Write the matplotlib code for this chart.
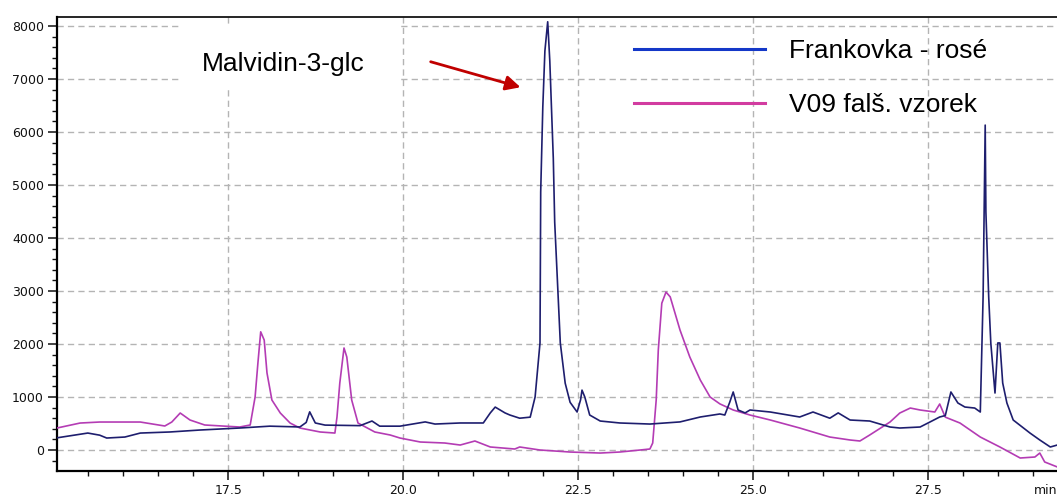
import matplotlib
matplotlib.use("Agg")
import matplotlib.pyplot as plt
from matplotlib.patches import Rectangle
from matplotlib.ticker import MultipleLocator, FormatStrFormatter

# retention time (min) and signal for the two chromatograms
frank_t = [15.05, 15.49, 15.66, 15.76, 16.02, 16.24, 16.66, 17.09, 17.66, 18.09,
           18.52, 18.61, 18.66, 18.74, 18.88, 19.38, 19.55, 19.66, 19.95, 20.31,
           20.45, 20.81, 21.14, 21.24, 21.31, 21.45, 21.52, 21.66, 21.81, 21.88,
           21.95, 21.96, 21.99, 22.02, 22.06, 22.09, 22.11, 22.14, 22.16, 22.24,
           22.31, 22.38, 22.48, 22.53, 22.55, 22.59, 22.66, 22.81, 23.09, 23.52,
           23.95, 24.24, 24.52, 24.59, 24.66, 24.71, 24.78, 24.88, 24.95, 25.24,
           25.66, 25.85, 26.09, 26.21, 26.38, 26.66, 26.95, 27.09, 27.38, 27.52,
           27.66, 27.74, 27.82, 27.92, 28.02, 28.16, 28.24, 28.28, 28.31, 28.32,
           28.36, 28.39, 28.45, 28.49, 28.52, 28.56, 28.62, 28.71, 28.95, 29.09,
           29.24, 29.34, 29.5]
frank_y = [230, 320, 280, 226, 245, 320, 340, 377, 415, 450,
           435, 520, 720, 510, 470, 460, 547, 450, 450, 530,
           490, 510, 510, 700, 810, 700, 660, 600, 620, 1000,
           2020, 4870, 6470, 7530, 8080, 7340, 6600, 5500, 4300, 2020,
           1260, 900, 717, 950, 1130, 1000, 660, 547, 510, 490,
           530, 623, 680, 660, 900, 1095, 755, 700, 755, 717,
           623, 717, 600, 700, 566, 547, 434, 415, 434, 528,
           623, 650, 1095, 887, 811, 792, 717, 2890, 6130, 4490,
           2890, 2020, 1075, 2020, 2020, 1264, 887, 566, 320, 189,
           57, 94, 60]

v09_t = [15.05, 15.38, 15.66, 16.24, 16.59, 16.69, 16.81, 16.95, 17.16, 17.66,
         17.81, 17.88, 17.92, 17.96, 18.01, 18.05, 18.12, 18.24, 18.38, 18.52,
         18.81, 19.02, 19.05, 19.09, 19.15, 19.19, 19.26, 19.35, 19.59, 19.81,
         19.95, 20.24, 20.59, 20.81, 21.02, 21.24, 21.59, 21.66, 21.95, 22.38,
         22.81, 23.09, 23.38, 23.52, 23.56, 23.61, 23.64, 23.69, 23.75, 23.81,
         23.95, 24.09, 24.24, 24.38, 24.52, 24.71, 24.95, 25.24, 25.66, 26.09,
         26.38, 26.52, 26.66, 26.95, 27.09, 27.24, 27.38, 27.59, 27.66, 27.74,
         27.95, 28.24, 28.52, 28.81, 29.02, 29.09, 29.16, 29.34, 29.5]
v09_y = [415, 509, 528, 528, 453, 528, 698, 566, 472, 434,
         472, 1000, 1640, 2230, 2075, 1453, 943, 698, 509, 415,
         340, 320, 623, 1264, 1925, 1755, 943, 509, 340, 283,
         226, 151, 132, 94, 170, 57, 19, 57, 0, -38,
         -57, -38, 0, 19, 132, 943, 1887, 2770, 2980, 2890,
         2264, 1755, 1320, 1000, 870, 755, 660, 566, 415, 245,
         189, 170, 283, 528, 698, 792, 755, 717, 868, 620,
         509, 245, 57, -151, -132, -57, -226, -320, -360]

labels = ["Frankovka - rosé", "V09 falš. vzorek"]
trace_colors = ["#1e1e6e", "#b43cb4"]
legend_colors = ["#1438c8", "#d23ca0"]

W, H = 1057, 497
fig = plt.figure(figsize=(W / 100, H / 100), dpi=100)
ax = fig.add_axes([57 / W, 26 / H, (1068.5 - 57) / W, 454 / H])

ax.plot(v09_t, v09_y, color=trace_colors[1], lw=1.2, zorder=3)
ax.plot(frank_t, frank_y, color=trace_colors[0], lw=1.2, zorder=4)

ax.set_xlim(15.05, 29.5)
ax.set_ylim(-396, 8170)

ax.xaxis.set_major_locator(MultipleLocator(2.5))
ax.xaxis.set_minor_locator(MultipleLocator(0.5))
ax.xaxis.set_major_formatter(FormatStrFormatter("%.1f"))
ax.yaxis.set_major_locator(MultipleLocator(1000))
ax.yaxis.set_minor_locator(MultipleLocator(200))

ax.grid(True, which="major", color="#b4b4b4", lw=1.0, linestyle=(0, (4.5, 3)))
ax.set_axisbelow(True)

for side in ["left", "bottom"]:
    ax.spines[side].set_linewidth(1.6)
ax.spines["top"].set_linewidth(1.2)
ax.spines["right"].set_visible(False)
ax.tick_params(which="major", length=6.5, width=1.1, labelsize=9, pad=3, colors="#111111")
ax.tick_params(which="minor", length=3.5, width=1.0, colors="#111111")
ax.tick_params(right=False, top=False)

# white box behind the peak label hides the grid
ax.add_patch(Rectangle((16.81, 6830), 3.14, 1190, facecolor="white", edgecolor="none", zorder=2))
ax.text(17.12, 7280, "Malvidin-3-glc", family="Liberation Sans", fontsize=19,
        va="center", ha="left", zorder=5)
ax.annotate("", xy=(21.71, 6830), xytext=(20.35, 7340),
            arrowprops=dict(arrowstyle="-|>", color="#c00000", lw=2, mutation_scale=22),
            zorder=5)

# legend drawn by hand, as in the original figure
leg_y = [49, 103]
for lab, col, yy in zip(labels, legend_colors, leg_y):
    fig.add_artist(plt.Line2D([634 / W, 765 / W], [1 - yy / H, 1 - yy / H],
                              color=col, lw=2.2, transform=fig.transFigure))
    fig.text(789 / W, 1 - (yy + 2) / H, lab, family="Liberation Sans", fontsize=19,
             va="center", ha="left")

fig.text(1034 / W, 1 - 490 / H, "min", fontsize=9, va="center", ha="left", color="#111111")

fig.savefig("out.png", dpi=100)
